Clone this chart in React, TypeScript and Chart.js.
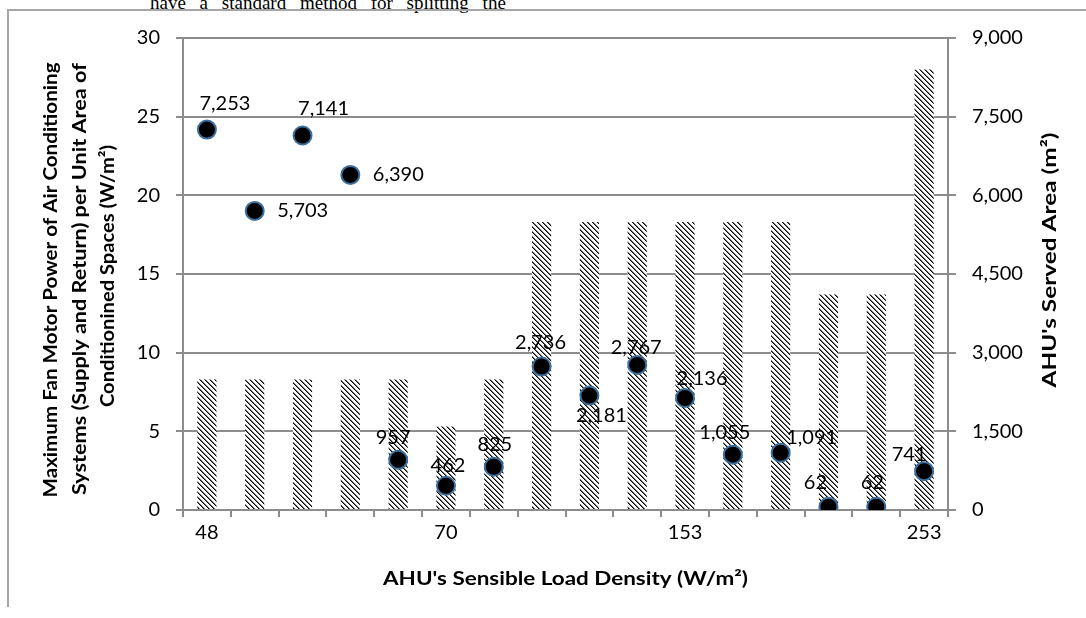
import React, { useEffect, useRef } from "react";
import { Chart, registerables } from "chart.js";

Chart.register(...registerables);

// ---- data ----
const categories = ["48", "", "", "", "", "70", "", "", "", "", "153", "", "", "", "", "253"];
const fanPower = [8.3, 8.3, 8.3, 8.3, 8.3, 5.3, 8.3, 18.3, 18.3, 18.3, 18.3, 18.3, 18.3, 13.7, 13.7, 28.0];
const servedArea = [7253, 5703, 7141, 6390, 957, 462, 825, 2736, 2181, 2767, 2136, 1055, 1091, 62, 62, 741];
const leftAxisMax = 30;
const leftAxisStep = 5;
const rightAxisMax = 9000;
const rightAxisStep = 1500;

const leftTitle = [
  "Maximum Fan Motor Power of Air Conditioning",
  "Systems (Supply and Return) per Unit Area of",
  "Conditionined Spaces (W/m²)",
];
const rightTitle = "AHU's Served Area (m²)";
const xTitle = "AHU's Sensible Load Density (W/m²)";

// label placement (dx, dy) relative to each point — styling only
const labelOffsets: [number, number][] = [
  [18, -26], [48, 0], [21, -27], [48, 0], [-5, -22], [2, -20], [1, -22], [-1, -24],
  [12, 20], [-1, -17], [17, -19], [-8, -22], [31, -15], [-13, -24], [-4, -24], [-15, -17],
];

const FONT = "Lato";
const GRAY = "#8c8c8c";

function makePattern(ctx: CanvasRenderingContext2D) {
  const size = 5;
  const off = document.createElement("canvas");
  off.width = size;
  off.height = size;
  const o = off.getContext("2d")!;
  o.fillStyle = "#ffffff";
  o.fillRect(0, 0, size, size);
  for (let y = 0; y < size; y++) {
    for (let x = 0; x < size; x++) {
      const d = (((x - y) % size) + size) % size;
      if (d === 0) {
        o.fillStyle = "#000000";
        o.fillRect(x, y, 1, 1);
      } else if (d === 1) {
        o.fillStyle = "#707070";
        o.fillRect(x, y, 1, 1);
      }
    }
  }
  return ctx.createPattern(off, "repeat")!;
}

// draw text centred at (x, y), rotated, stretched along its run to a target length
function drawFitted(ctx: CanvasRenderingContext2D, text: string, x: number, y: number, rot: number, target: number) {
  ctx.save();
  ctx.translate(x, y);
  ctx.rotate(rot);
  const w = ctx.measureText(text).width;
  const k = target / w;
  ctx.scale(k, 1);
  ctx.fillText(text, 0, 0);
  ctx.restore();
}

const overlayPlugin = {
  id: "overlay",
  afterDatasetsDraw(chart: any) {
    const ctx: CanvasRenderingContext2D = chart.ctx;
    const meta = chart.getDatasetMeta(1);
    ctx.save();
    ctx.font = `20px ${FONT}`;
    ctx.fillStyle = "#000";
    ctx.textAlign = "center";
    ctx.textBaseline = "middle";
    meta.data.forEach((pt: any, i: number) => {
      const [dx, dy] = labelOffsets[i] || [0, -22];
      ctx.fillText(servedArea[i].toLocaleString("en-US"), pt.x + dx, pt.y + dy);
    });
    ctx.restore();
  },
  afterDraw(chart: any) {
    const ctx: CanvasRenderingContext2D = chart.ctx;
    const area = chart.chartArea;
    ctx.save();
    ctx.fillStyle = "#000";
    ctx.font = `bold 19px ${FONT}`;
    ctx.textAlign = "center";
    ctx.textBaseline = "middle";
    const xs = [51, 80, 108];
    const ys = [280, 279, 276];
    const lens = [435, 432, 262];
    leftTitle.forEach((line, i) => {
      drawFitted(ctx, line, xs[i], ys[i], -Math.PI / 2, lens[i]);
    });
    drawFitted(ctx, rightTitle, 1050, 260, -Math.PI / 2, 255);
    drawFitted(ctx, xTitle, (area.left + area.right) / 2, 579, 0, 365);
    ctx.restore();
  },
};

export default function App() {
  const ref = useRef<HTMLCanvasElement>(null);
  useEffect(() => {
    const canvas = ref.current!;
    const ctx = canvas.getContext("2d")!;
    const pattern = makePattern(ctx);
    const chart = new Chart(canvas, {
      type: "bar",
      data: {
        labels: categories,
        datasets: [
          {
            type: "bar",
            label: "Fan power",
            data: fanPower,
            yAxisID: "y",
            backgroundColor: pattern as any,
            borderWidth: 0,
            barPercentage: 0.4,
            categoryPercentage: 1.0,
            order: 2,
          },
          {
            type: "line",
            label: "Served area",
            data: servedArea,
            yAxisID: "y1",
            showLine: false,
            pointRadius: 9,
            pointBackgroundColor: "#000000",
            pointBorderColor: "#3a6f9e",
            pointBorderWidth: 2,
            order: 1,
          } as any,
        ],
      },
      options: {
        responsive: false,
        devicePixelRatio: 1,
        animation: false,
        layout: { padding: { top: 38, left: 0, right: 0, bottom: 0 } },
        plugins: {
          legend: { display: false },
          tooltip: { enabled: false },
        },
        scales: {
          x: {
            type: "category",
            offset: true,
            grid: {
              offset: true,
              drawOnChartArea: false,
              drawTicks: true,
              tickLength: 7,
              color: GRAY,
              lineWidth: 2,
            },
            border: { color: GRAY, width: 2 },
            ticks: {
              autoSkip: false,
              maxRotation: 0,
              color: "#000",
              font: { family: FONT, size: 20 },
              padding: 4,
            },
            afterFit: (s: any) => {
              s.height = 618 - 510;
            },
          },
          y: {
            position: "left",
            min: 0,
            max: leftAxisMax,
            grid: { color: GRAY, lineWidth: 2, tickLength: 7 },
            border: { color: GRAY, width: 2 },
            ticks: {
              stepSize: leftAxisStep,
              color: "#000",
              font: { family: FONT, size: 20 },
              padding: 16,
            },
            afterFit: (s: any) => {
              s.width = 183;
            },
          },
          y1: {
            position: "right",
            min: 0,
            max: rightAxisMax,
            grid: { drawOnChartArea: false, color: GRAY, lineWidth: 2, tickLength: 8 },
            border: { color: GRAY, width: 2 },
            ticks: {
              stepSize: rightAxisStep,
              color: "#000",
              font: { family: FONT, size: 20 },
              padding: 16,
              callback: (v: any) => Number(v).toLocaleString("en-US"),
            },
            afterFit: (s: any) => {
              s.width = 1086 - 948;
            },
          },
        },
      },
      plugins: [overlayPlugin],
    });
    return () => chart.destroy();
  }, []);

  return (
    <div style={{ position: "absolute", left: 0, top: 0, width: 1086, height: 618, overflow: "hidden", background: "#fff" }}>
      <div
        style={{
          position: "absolute",
          left: 150,
          top: -7,
          fontFamily: "'Liberation Serif', 'Times New Roman', serif",
          fontSize: 19,
          lineHeight: "19px",
          wordSpacing: 9,
          whiteSpace: "nowrap",
          color: "#000",
        }}
      >
        have a standard method for splitting the
      </div>
      <div
        style={{
          position: "absolute",
          left: 7,
          top: 9,
          width: 1100,
          height: 596,
          borderLeft: "2px solid #a6a6a6",
          borderTop: "2px solid #a6a6a6",
        }}
      />
      <canvas ref={ref} width={1086} height={618} style={{ position: "absolute", left: 0, top: 0 }} />
    </div>
  );
}
